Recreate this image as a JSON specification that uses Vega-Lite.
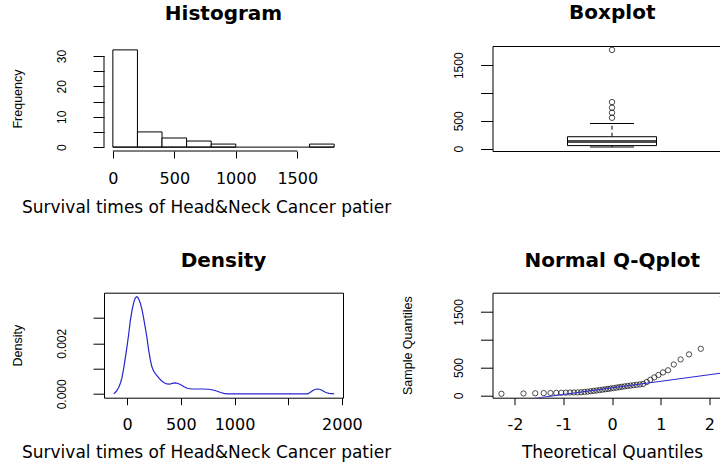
{
  "$schema": "https://vega.github.io/schema/vega-lite/v6.json",
  "background": "white",
  "autosize": {"type": "pad"},
  "padding": {"left": 10, "top": 2, "right": 0, "bottom": 0},
  "columns": 2,
  "bounds": "flush",
  "spacing": {"row": 141.7, "column": 149.5},
  "datasets": {
    "survival": [
      {"theoretical": -2.278, "survival": 27},
      {"theoretical": -1.824, "survival": 33},
      {"theoretical": -1.582, "survival": 37},
      {"theoretical": -1.408, "survival": 40},
      {"theoretical": -1.268, "survival": 42},
      {"theoretical": -1.150, "survival": 44},
      {"theoretical": -1.046, "survival": 46},
      {"theoretical": -0.952, "survival": 48},
      {"theoretical": -0.866, "survival": 50},
      {"theoretical": -0.786, "survival": 51},
      {"theoretical": -0.711, "survival": 52},
      {"theoretical": -0.639, "survival": 55},
      {"theoretical": -0.571, "survival": 60},
      {"theoretical": -0.505, "survival": 66},
      {"theoretical": -0.441, "survival": 73},
      {"theoretical": -0.379, "survival": 80},
      {"theoretical": -0.319, "survival": 87},
      {"theoretical": -0.259, "survival": 94},
      {"theoretical": -0.201, "survival": 101},
      {"theoretical": -0.143, "survival": 108},
      {"theoretical": -0.086, "survival": 115},
      {"theoretical": -0.029, "survival": 122},
      {"theoretical": 0.029, "survival": 130},
      {"theoretical": 0.086, "survival": 138},
      {"theoretical": 0.143, "survival": 146},
      {"theoretical": 0.201, "survival": 154},
      {"theoretical": 0.259, "survival": 161},
      {"theoretical": 0.319, "survival": 168},
      {"theoretical": 0.379, "survival": 175},
      {"theoretical": 0.441, "survival": 182},
      {"theoretical": 0.505, "survival": 189},
      {"theoretical": 0.571, "survival": 196},
      {"theoretical": 0.639, "survival": 205},
      {"theoretical": 0.711, "survival": 240},
      {"theoretical": 0.786, "survival": 280},
      {"theoretical": 0.866, "survival": 322},
      {"theoretical": 0.952, "survival": 366},
      {"theoretical": 1.046, "survival": 412},
      {"theoretical": 1.150, "survival": 450},
      {"theoretical": 1.268, "survival": 555},
      {"theoretical": 1.408, "survival": 645},
      {"theoretical": 1.582, "survival": 736},
      {"theoretical": 1.824, "survival": 837},
      {"theoretical": 2.278, "survival": 1776}
    ],
    "density": [
      {"survival": -124, "density": 0.0},
      {"survival": -100, "density": 0.0001},
      {"survival": -78, "density": 0.00025},
      {"survival": -60, "density": 0.00045},
      {"survival": -47, "density": 0.00065},
      {"survival": -30, "density": 0.00105},
      {"survival": -16, "density": 0.00144},
      {"survival": 0, "density": 0.0019},
      {"survival": 15, "density": 0.00237},
      {"survival": 30, "density": 0.0029},
      {"survival": 46, "density": 0.0033},
      {"survival": 62, "density": 0.00362},
      {"survival": 77, "density": 0.0038},
      {"survival": 90, "density": 0.00385},
      {"survival": 105, "density": 0.00378},
      {"survival": 123, "density": 0.0036},
      {"survival": 140, "density": 0.0033},
      {"survival": 154, "density": 0.003},
      {"survival": 170, "density": 0.0026},
      {"survival": 185, "density": 0.00222},
      {"survival": 200, "density": 0.00175},
      {"survival": 216, "density": 0.00135},
      {"survival": 230, "density": 0.00108},
      {"survival": 247, "density": 0.0009},
      {"survival": 270, "density": 0.00076},
      {"survival": 293, "density": 0.00064},
      {"survival": 320, "density": 0.00052},
      {"survival": 345, "density": 0.00044},
      {"survival": 370, "density": 0.00039},
      {"survival": 395, "density": 0.00038},
      {"survival": 420, "density": 0.00041},
      {"survival": 448, "density": 0.00043},
      {"survival": 475, "density": 0.00041},
      {"survival": 500, "density": 0.00036},
      {"survival": 530, "density": 0.00028},
      {"survival": 560, "density": 0.00022},
      {"survival": 600, "density": 0.00019},
      {"survival": 650, "density": 0.00019},
      {"survival": 700, "density": 0.00019},
      {"survival": 760, "density": 0.00018},
      {"survival": 800, "density": 0.00015},
      {"survival": 840, "density": 0.0001},
      {"survival": 870, "density": 0.00005},
      {"survival": 900, "density": 0.00002},
      {"survival": 930, "density": 0.0},
      {"survival": 1680, "density": 0.0},
      {"survival": 1700, "density": 0.00004},
      {"survival": 1730, "density": 0.00013},
      {"survival": 1755, "density": 0.00018},
      {"survival": 1777, "density": 0.00019},
      {"survival": 1800, "density": 0.00017},
      {"survival": 1825, "density": 0.00011},
      {"survival": 1850, "density": 0.00005},
      {"survival": 1880, "density": 0.00002},
      {"survival": 1927, "density": 0.0}
    ],
    "qqline": [
      {"theoretical": -2.462, "survival": -157},
      {"theoretical": 2.462, "survival": 425}
    ]
  },
  "concat": [
    {
      "width": 239,
      "height": 105,
      "view": {"stroke": null},
      "title": {"text": "Histogram"},
      "layer": [
        {
          "data": {"name": "survival"},
          "transform": [
            {"bin": {"extent": [0, 1800], "step": 200}, "field": "survival", "as": ["bin_start", "bin_end"]},
            {"aggregate": [{"op": "count", "as": "frequency"}], "groupby": ["bin_start", "bin_end"]}
          ],
          "mark": {"type": "rect", "fill": "white", "stroke": "black", "strokeWidth": 1},
          "encoding": {
            "x": {
              "field": "bin_start", "type": "quantitative",
              "scale": {"domain": [-72, 1872], "nice": false, "zero": false},
              "axis": {
                "values": [0, 500, 1000, 1500],
                "tickCount": 20,
                "labelExpr": "'' + datum.value",
                "labelOverlap": false,
                "title": "Survival times of Head&Neck Cancer patier",
                "titleX": -82.5, "titleY": 61, "titleAlign": "left"
              }
            },
            "x2": {"field": "bin_end"},
            "y": {
              "field": "frequency", "type": "quantitative",
              "scale": {"domain": [-1.28, 33.28], "nice": false, "zero": false},
              "axis": {
                "values": [0, 5, 10, 15, 20, 25, 30],
                "tickCount": 20,
                "labelExpr": "datum.value % 10 == 0 ? '' + datum.value : ''",
                "labelOverlap": false,
                "labelPadding": 24.5,
                "title": "Frequency",
                "titleX": -87
              }
            },
            "y2": {"datum": 0}
          }
        },
        {
          "data": {"values": [{}]},
          "mark": {"type": "rule", "color": "black", "strokeWidth": 1},
          "encoding": {"x": {"datum": 0}, "x2": {"datum": 1800}, "y": {"datum": 0}}
        },
        {
          "data": {"values": [{}]},
          "mark": {"type": "rule", "color": "black", "strokeWidth": 1},
          "encoding": {"x": {"datum": 0}, "x2": {"datum": 1500}, "y": {"datum": -1.28}}
        },
        {
          "data": {"values": [{}]},
          "mark": {"type": "rule", "color": "black", "strokeWidth": 1},
          "encoding": {"x": {"datum": -72}, "y": {"datum": 0}, "y2": {"datum": 30}}
        }
      ]
    },
    {
      "width": 227.5,
      "height": 105,
      "title": {"text": "Boxplot", "dx": 6},
      "data": {"name": "survival"},
      "mark": {
        "type": "boxplot",
        "extent": 1.5,
        "size": 89,
        "box": {"fill": "white", "stroke": "black", "strokeWidth": 1},
        "median": {"color": "black", "thickness": 3},
        "rule": {"color": "black", "strokeDash": [4, 3], "strokeWidth": 1},
        "ticks": {"color": "black", "size": 44},
        "outliers": {"shape": "circle", "filled": false, "color": "black", "size": 30, "strokeWidth": 1}
      },
      "encoding": {
        "x": {
          "datum": "survival", "type": "nominal",
          "scale": {"paddingInner": 0, "paddingOuter": 0.5, "align": 0.5505},
          "axis": null
        },
        "y": {
          "field": "survival", "type": "quantitative",
          "scale": {"domain": [-43, 1846], "nice": false, "zero": false},
          "axis": {
            "values": [0, 500, 1000, 1500],
            "tickCount": 20,
            "labelExpr": "datum.value == 1000 ? '' : '' + datum.value",
            "labelOverlap": false,
            "tickSize": 12, "labelPadding": 15.5,
            "title": null
          }
        }
      }
    },
    {
      "width": 239,
      "height": 105,
      "title": {"text": "Density"},
      "data": {"name": "density"},
      "mark": {"type": "line", "color": "#2626d0", "strokeWidth": 1.2},
      "encoding": {
        "x": {
          "field": "survival", "type": "quantitative",
          "scale": {"domain": [-215, 2010], "nice": false, "zero": false},
          "axis": {
            "values": [0, 500, 1000, 1500, 2000],
            "tickCount": 20,
            "labelExpr": "datum.value == 1500 ? '' : '' + datum.value",
            "labelOverlap": false,
            "title": "Survival times of Head&Neck Cancer patier",
            "titleX": -82.5, "titleY": 60, "titleAlign": "left"
          }
        },
        "y": {
          "field": "density", "type": "quantitative",
          "scale": {"domain": [-0.000154, 0.004004], "nice": false, "zero": false},
          "axis": {
            "values": [0, 0.001, 0.002, 0.003],
            "tickCount": 20,
            "labelExpr": "datum.value == 0 || datum.value == 0.002 ? format(datum.value, '.3f') : ''",
            "labelOverlap": false,
            "labelPadding": 24.5,
            "title": "Density",
            "titleX": -87
          }
        }
      }
    },
    {
      "width": 227.5,
      "height": 105,
      "title": {"text": "Normal Q-Qplot", "dx": 6},
      "layer": [
        {
          "data": {"name": "survival"},
          "mark": {"type": "point", "shape": "circle", "filled": false, "color": "black", "size": 28, "strokeWidth": 1, "clip": true},
          "encoding": {
            "x": {
              "field": "theoretical", "type": "quantitative",
              "scale": {"domain": [-2.462, 2.219], "nice": false, "zero": false},
              "axis": {
                "values": [-2, -1, 0, 1, 2],
                "tickCount": 20,
                "labelExpr": "'' + datum.value",
                "labelOverlap": false,
                "title": "Theoretical Quantiles",
                "titleX": 119.5, "titleY": 60, "titleAlign": "center"
              }
            },
            "y": {
              "field": "survival", "type": "quantitative",
              "scale": {"domain": [-43, 1846], "nice": false, "zero": false},
              "axis": {
                "values": [0, 500, 1000, 1500],
                "tickCount": 20,
                "labelExpr": "datum.value == 1000 ? '' : '' + datum.value",
                "labelOverlap": false,
                "tickSize": 12, "labelPadding": 15.5,
                "title": "Sample Quantiles",
                "titleX": -85
              }
            }
          }
        },
        {
          "data": {"name": "qqline"},
          "mark": {"type": "line", "color": "#2626d0", "strokeWidth": 1, "clip": true},
          "encoding": {
            "x": {"field": "theoretical", "type": "quantitative"},
            "y": {"field": "survival", "type": "quantitative"}
          }
        }
      ]
    }
  ],
  "config": {
    "font": "DejaVu Sans",
    "view": {"stroke": "black", "strokeWidth": 1},
    "title": {
      "font": "DejaVu Sans", "fontSize": 20, "fontWeight": "bold", "color": "black",
      "anchor": "middle", "baseline": "alphabetic", "offset": 22
    },
    "axis": {
      "grid": false, "domain": false,
      "tickColor": "black", "tickWidth": 1,
      "labelColor": "black", "titleColor": "black",
      "labelFlush": false, "labelOverlap": false, "labelBound": false,
      "titleFontWeight": "normal"
    },
    "axisX": {
      "tickSize": 7, "labelPadding": 12,
      "labelFont": "DejaVu Sans", "labelFontSize": 16,
      "titleFont": "DejaVu Sans", "titleFontSize": 17,
      "titleBaseline": "alphabetic"
    },
    "axisY": {
      "tickSize": 11,
      "labelAngle": 270, "labelAlign": "center", "labelBaseline": "bottom",
      "labelFont": "Liberation Sans", "labelFontSize": 12,
      "titleFont": "Liberation Sans", "titleFontSize": 12.5,
      "titleAngle": 270, "titleAlign": "center", "titleBaseline": "middle",
      "titleY": 52.5
    }
  }
}
